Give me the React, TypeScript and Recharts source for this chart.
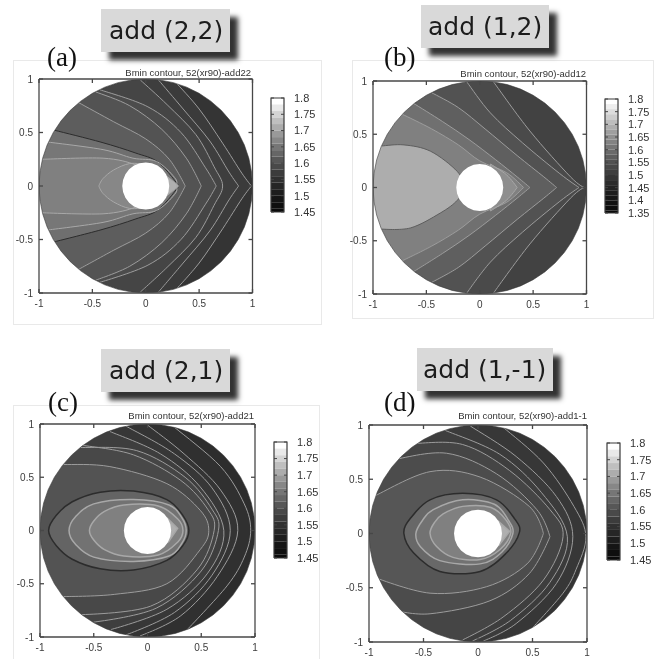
import { Area, ComposedChart, Line, XAxis, YAxis } from 'recharts';

type Pt = [number, number];

const axisTicks = [-1, -0.5, 0, 0.5, 1];
const barTicksShort = [1.45, 1.5, 1.55, 1.6, 1.65, 1.7, 1.75, 1.8];
const barTicksLong = [1.35, 1.4, 1.45, 1.5, 1.55, 1.6, 1.65, 1.7, 1.75, 1.8];
const barLevelsShort = [1.8, 1.78, 1.76, 1.74, 1.72, 1.7, 1.68, 1.66, 1.64, 1.62, 1.6, 1.58, 1.56, 1.54, 1.52, 1.5, 1.48, 1.46, 1.45];
const barLevelsLong = [1.8, 1.78, 1.76, 1.74, 1.72, 1.7, 1.68, 1.66, 1.64, 1.62, 1.6, 1.58, 1.56, 1.54, 1.52, 1.5, 1.48, 1.46, 1.44, 1.42, 1.4, 1.38, 1.36, 1.35];

// disc edge, counter-clockwise from (1,0)
const rim: Pt[] = [
  [1, 0], [0.991, 0.131], [0.966, 0.259], [0.924, 0.383], [0.866, 0.5], [0.793, 0.609], [0.707, 0.707], [0.609, 0.793],
  [0.5, 0.866], [0.383, 0.924], [0.259, 0.966], [0.131, 0.991], [0, 1], [-0.131, 0.991], [-0.259, 0.966], [-0.383, 0.924],
  [-0.5, 0.866], [-0.609, 0.793], [-0.707, 0.707], [-0.793, 0.609], [-0.866, 0.5], [-0.924, 0.383], [-0.966, 0.259], [-0.991, 0.131],
  [-1, 0], [-0.991, -0.131], [-0.966, -0.259], [-0.924, -0.383], [-0.866, -0.5], [-0.793, -0.609], [-0.707, -0.707], [-0.609, -0.793],
  [-0.5, -0.866], [-0.383, -0.924], [-0.259, -0.966], [-0.131, -0.991], [0, -1], [0.131, -0.991], [0.259, -0.966], [0.383, -0.924],
  [0.5, -0.866], [0.609, -0.793], [0.707, -0.707], [0.793, -0.609], [0.866, -0.5], [0.924, -0.383], [0.966, -0.259], [0.991, -0.131],
  [1, 0],
];

const hole: Pt[] = [
  [0.22, 0], [0.2125, 0.057], [0.1905, 0.11], [0.1556, 0.1556], [0.11, 0.1905], [0.057, 0.2125], [0, 0.22],
  [-0.057, 0.2125], [-0.11, 0.1905], [-0.1556, 0.1556], [-0.1905, 0.11], [-0.2125, 0.057], [-0.22, 0],
  [-0.2125, -0.057], [-0.1905, -0.11], [-0.1556, -0.1556], [-0.11, -0.1905], [-0.057, -0.2125], [0, -0.22],
  [0.057, -0.2125], [0.11, -0.1905], [0.1556, -0.1556], [0.1905, -0.11], [0.2125, -0.057], [0.22, 0],
];

// panel (a) contours, outermost first
const contoursA: Pt[][] = [
  [[0.28, 0.97], [0.5, 0.72], [0.72, 0.4], [0.9, 0.12], [0.99, 0], [0.9, -0.12], [0.72, -0.4], [0.5, -0.72], [0.28, -0.97]],
  [[0.12, 0.99], [0.35, 0.72], [0.6, 0.42], [0.78, 0.13], [0.87, 0], [0.78, -0.13], [0.6, -0.42], [0.35, -0.72], [0.12, -0.99]],
  [[-0.05, 0.99], [0.2, 0.76], [0.47, 0.48], [0.64, 0.18], [0.72, 0], [0.64, -0.18], [0.47, -0.48], [0.2, -0.76], [-0.05, -0.99]],
  [[-0.43, 0.9], [0.02, 0.74], [0.33, 0.5], [0.56, 0.17], [0.66, 0], [0.56, -0.17], [0.33, -0.5], [0.02, -0.74], [-0.43, -0.9]],
  [[-0.47, 0.88], [-0.15, 0.75], [0.15, 0.53], [0.38, 0.26], [0.52, 0], [0.38, -0.26], [0.15, -0.53], [-0.15, -0.75], [-0.47, -0.88]],
  [[-0.63, 0.78], [-0.3, 0.6], [0, 0.44], [0.22, 0.25], [0.37, 0], [0.22, -0.25], [0, -0.44], [-0.3, -0.6], [-0.63, -0.78]],
  [[-0.85, 0.52], [-0.42, 0.41], [-0.1, 0.31], [0.12, 0.22], [0.31, 0], [0.12, -0.22], [-0.1, -0.31], [-0.42, -0.41], [-0.85, -0.52]],
  [[-0.91, 0.41], [-0.4, 0.34], [-0.12, 0.26], [0.1, 0.23], [0.27, 0.08], [0.29, 0], [0.27, -0.08], [0.1, -0.23], [-0.12, -0.26], [-0.4, -0.34], [-0.91, -0.41]],
  [[-0.97, 0.25], [-0.4, 0.26], [-0.1, 0.2], [0, 0.12], [0, -0.12], [-0.1, -0.2], [-0.4, -0.26], [-0.97, -0.25]],
  [[-0.44, 0], [-0.4, 0.07], [-0.3, 0.15], [-0.15, 0.21], [0, 0.2], [0, -0.2], [-0.15, -0.21], [-0.3, -0.15], [-0.4, -0.07], [-0.44, 0]],
  [[0.2, 0.09], [0.31, 0], [0.2, -0.09], [0.2, 0.09]],
];
const levelsA = [1.525, 1.53, 1.54, 1.55, 1.56, 1.575, 1.6, 1.612, 1.625, 1.635, 1.69];
const darkA = [6];

// panel (b)
const contoursB: Pt[][] = [
  [[0.13, 0.99], [0.47, 0.53], [0.85, 0.1], [0.98, 0], [0.85, -0.1], [0.47, -0.53], [0.13, -0.99]],
  [[-0.12, 0.99], [0.1, 0.7], [0.4, 0.42], [0.75, 0.13], [0.93, 0], [0.75, -0.13], [0.4, -0.42], [0.1, -0.7], [-0.12, -0.99]],
  [[-0.45, 0.89], [-0.2, 0.75], [0.05, 0.55], [0.35, 0.3], [0.6, 0.1], [0.72, 0], [0.6, -0.1], [0.35, -0.3], [0.05, -0.55], [-0.2, -0.75], [-0.45, -0.89]],
  [[-0.62, 0.79], [-0.35, 0.62], [-0.1, 0.45], [0.15, 0.26], [0.35, 0.1], [0.47, 0], [0.35, -0.1], [0.15, -0.26], [-0.1, -0.45], [-0.35, -0.62], [-0.62, -0.79]],
  [[-0.73, 0.69], [-0.45, 0.55], [-0.2, 0.4], [0, 0.25], [0.25, 0.14], [0.41, 0], [0.25, -0.14], [0, -0.25], [-0.2, -0.4], [-0.45, -0.55], [-0.73, -0.69]],
  [[-0.92, 0.39], [-0.71, 0.4], [-0.46, 0.34], [-0.21, 0.15], [-0.15, 0], [-0.21, -0.12], [-0.37, -0.24], [-0.65, -0.38], [-0.92, -0.39]],
  [[0.1, 0.22], [0.25, 0.12], [0.35, 0], [0.25, -0.12], [0.1, -0.22], [0.1, 0.22]],
];
const levelsB = [1.475, 1.49, 1.515, 1.545, 1.575, 1.655, 1.6];
const darkB = [5];

// panel (c)
const contoursC: Pt[][] = [
  [[0.25, 0.97], [0.68, 0.6], [0.9, 0.25], [0.96, 0], [0.9, -0.25], [0.74, -0.52], [0.37, -0.93]],
  [[0, 0.99], [0.34, 0.72], [0.68, 0.38], [0.84, 0], [0.65, -0.43], [0.31, -0.8], [-0.07, -0.99]],
  [[-0.2, 0.98], [0.25, 0.72], [0.6, 0.4], [0.77, 0], [0.6, -0.42], [0.25, -0.77], [-0.2, -0.98]],
  [[-0.35, 0.93], [0.12, 0.72], [0.49, 0.41], [0.71, 0], [0.56, -0.4], [0.18, -0.74], [-0.34, -0.93]],
  [[-0.62, 0.78], [-0.1, 0.75], [0.35, 0.5], [0.6, 0.2], [0.66, 0], [0.5, -0.38], [0.08, -0.73], [-0.5, -0.86]],
  [[-0.6, 0.8], [-0.13, 0.71], [0.31, 0.47], [0.56, 0.2], [0.62, 0], [0.46, -0.37], [0.03, -0.71], [-0.62, -0.79]],
  [[-0.78, 0.62], [-0.35, 0.6], [0.18, 0.44], [0.49, 0.19], [0.57, 0], [0.49, -0.18], [0.18, -0.5], [-0.31, -0.6], [-0.78, -0.62]],
  [[-0.92, 0], [-0.85, 0.14], [-0.7, 0.27], [-0.44, 0.36], [-0.13, 0.37], [0.18, 0.29], [0.33, 0.14], [0.385, 0], [0.33, -0.14], [0.18, -0.28], [-0.13, -0.37], [-0.44, -0.36], [-0.7, -0.27], [-0.85, -0.14], [-0.92, 0]],
  [[-0.73, 0], [-0.67, 0.13], [-0.5, 0.25], [-0.13, 0.29], [0.2, 0.24], [0.32, 0.12], [0.36, 0], [0.32, -0.12], [0.2, -0.24], [-0.13, -0.29], [-0.5, -0.25], [-0.67, -0.13], [-0.73, 0]],
  [[-0.54, 0], [-0.5, 0.09], [-0.4, 0.18], [-0.22, 0.24], [0.1, 0.23], [0.28, 0.11], [0.33, 0], [0.28, -0.11], [0.1, -0.23], [-0.22, -0.24], [-0.4, -0.18], [-0.5, -0.09], [-0.54, 0]],
  [[0.18, 0.12], [0.28, 0.02], [0.2, -0.1], [0.18, 0.12]],
];
const levelsC = [1.51, 1.515, 1.52, 1.53, 1.54, 1.545, 1.56, 1.585, 1.605, 1.625, 1.69];
const darkC = [7];

// panel (d)
const contoursD: Pt[][] = [
  [[0.23, 0.98], [0.6, 0.65], [0.88, 0.25], [0.99, -0.03], [0.9, -0.33], [0.78, -0.55], [0.48, -0.89]],
  [[-0.07, 0.99], [0.35, 0.71], [0.72, 0.34], [0.87, -0.03], [0.72, -0.46], [0.35, -0.83], [0.05, -0.99]],
  [[-0.3, 0.95], [0.2, 0.73], [0.58, 0.38], [0.82, -0.03], [0.66, -0.45], [0.3, -0.8], [-0.05, -0.99]],
  [[-0.59, 0.83], [-0.14, 0.82], [0.29, 0.58], [0.66, 0.22], [0.78, -0.03], [0.6, -0.43], [0.23, -0.77], [-0.14, -0.98]],
  [[-0.78, 0.68], [-0.29, 0.74], [0.17, 0.55], [0.54, 0.22], [0.66, -0.03], [0.47, -0.37], [0.11, -0.62], [-0.44, -0.74], [-0.75, -0.71]],
  [[-0.96, 0.34], [-0.44, 0.57], [0.02, 0.52], [0.47, 0.25], [0.6, 0], [0.45, -0.28], [0.08, -0.49], [-0.44, -0.55], [-0.96, -0.4]],
  [[-0.68, 0], [-0.62, 0.14], [-0.44, 0.31], [-0.14, 0.37], [0.17, 0.31], [0.34, 0.13], [0.38, 0.01], [0.26, -0.18], [0.02, -0.35], [-0.35, -0.35], [-0.59, -0.18], [-0.68, 0]],
  [[-0.57, 0], [-0.51, 0.12], [-0.41, 0.22], [-0.14, 0.31], [0.15, 0.27], [0.28, 0.12], [0.32, 0], [0.22, -0.17], [0.02, -0.28], [-0.35, -0.25], [-0.53, -0.12], [-0.57, 0]],
  [[-0.44, 0], [-0.4, 0.1], [-0.32, 0.18], [-0.14, 0.25], [0.12, 0.24], [0.26, 0.12], [0.3, 0], [0.2, -0.15], [0.02, -0.24], [-0.23, -0.22], [-0.38, -0.12], [-0.44, 0]],
  [[0.18, 0.12], [0.29, 0.02], [0.2, -0.1], [0.18, 0.12]],
];
const levelsD = [1.52, 1.525, 1.53, 1.54, 1.55, 1.565, 1.59, 1.605, 1.625, 1.69];
const darkD = [6];

const shade = (level: number, min: number, power = 1.05) => {
  const t = Math.max(0, (level - min) / (1.8 - min));
  const g = Math.round(10 + 245 * Math.pow(t, power));
  return `rgb(${g},${g},${g})`;
};

const toRows = (pts: Pt[]) => pts.map(([x, y]) => ({ x, y }));

// close a contour through the left of the box so everything inside it gets filled
const closeShape = (pts: Pt[]): Pt[] => {
  const first = pts[0];
  const last = pts[pts.length - 1];
  if (first[0] === last[0] && first[1] === last[1]) return pts;
  return [...pts, [last[0], -1], [-1, -1], [-1, 1], [first[0], 1], first];
};

const maskOutline: Pt[] = [[-1, 1], [1, 1], [1, 0], ...rim, [1, -1], [-1, -1], [-1, 1]];

// d3-style curve: rounded through the points, but keeps sharp corners (the chevron tips)
function smoothContour(context: any) {
  let pts: Pt[] = [];
  let line = NaN;
  const draw = (started: boolean) => {
    const n = pts.length;
    if (!n) return;
    if (started) context.lineTo(pts[0][0], pts[0][1]);
    else context.moveTo(pts[0][0], pts[0][1]);
    const closed = n > 3 && pts[0][0] === pts[n - 1][0] && pts[0][1] === pts[n - 1][1];
    const tangent = (i: number): Pt => {
      const prev = i > 0 ? pts[i - 1] : closed ? pts[n - 2] : pts[i];
      const next = i < n - 1 ? pts[i + 1] : closed ? pts[1] : pts[i];
      const cur = pts[i];
      const a = Math.atan2(cur[1] - prev[1], cur[0] - prev[0]);
      const b = Math.atan2(next[1] - cur[1], next[0] - cur[0]);
      let turn = Math.abs(a - b);
      if (turn > Math.PI) turn = 2 * Math.PI - turn;
      if (turn > 0.95) return [0, 0];
      return [(next[0] - prev[0]) / 6, (next[1] - prev[1]) / 6];
    };
    for (let i = 0; i < n - 1; i++) {
      const t0 = tangent(i);
      const t1 = tangent(i + 1);
      context.bezierCurveTo(pts[i][0] + t0[0], pts[i][1] + t0[1], pts[i + 1][0] - t1[0], pts[i + 1][1] - t1[1], pts[i + 1][0], pts[i + 1][1]);
    }
  };
  return {
    areaStart() { line = 0; },
    areaEnd() { line = NaN; },
    lineStart() { pts = []; },
    lineEnd() {
      draw(line === 1);
      if (line === 1) context.closePath();
      line = 1 - line;
    },
    point(x: number, y: number) { pts.push([+x, +y]); },
  };
}

const axisColor = '#474747';
const tickStyle = { fontSize: 10, fill: '#3c3c3c', fontFamily: 'Liberation Sans' };
const ends = toRows([[-1, -1], [1, 1]]);

type PanelProps = {
  left: number;
  top: number;
  size: number;
  height: number;
  contours: Pt[][];
  levels: number[];
  dark: number[];
  darkStroke: string;
  innerWidth: number;
  base: number;
  min: number;
};

function ContourPanel({ left, top, size, height, contours, levels, dark, darkStroke, innerWidth, base, min }: PanelProps) {
  const chartStyle = { position: 'absolute', left: left - 30, top: top - 10 } as const;
  return (
    <>
      <div style={chartStyle}>
        <ComposedChart width={size + 40} height={height + 30} margin={{ top: 10, right: 10, left: 30, bottom: 20 }}>
          <XAxis type="number" dataKey="x" domain={[-1, 1]} allowDataOverflow hide />
          <YAxis type="number" dataKey="y" domain={[-1, 1]} allowDataOverflow hide />
          <Area data={toRows([[-1, 1], [1, 1], [1, -1], [-1, -1], [-1, 1]])} dataKey="y" stroke="none" fill={shade(base, min)} fillOpacity={1}
            dot={false} activeDot={false} isAnimationActive={false} />
          {contours.map((pts, i) => (
            <Area key={i} type={smoothContour as any} data={toRows(closeShape(pts))} dataKey="y" stroke="none" fill={shade(levels[i], min)} fillOpacity={1}
              dot={false} activeDot={false} isAnimationActive={false} />
          ))}
          {contours.map((pts, i) => (
            <Area key={`line-${i}`} type={smoothContour as any} data={toRows(pts)} dataKey="y" fill="none"
              stroke={dark.includes(i) ? darkStroke : i > dark[0] ? '#a8a8a8' : '#9c9c9c'}
              strokeWidth={i >= dark[0] ? innerWidth : 1}
              dot={false} activeDot={false} isAnimationActive={false} />
          ))}
          <Area data={toRows(maskOutline)} dataKey="y" stroke="none" fill="#ffffff" fillOpacity={1} dot={false} activeDot={false} isAnimationActive={false} />
          <Area data={toRows(hole)} dataKey="y" stroke="none" fill="#ffffff" fillOpacity={1} dot={false} activeDot={false} isAnimationActive={false} />
          <Line data={toRows(rim)} dataKey="y" stroke="#3a3a3a" strokeWidth={0.6} dot={false} activeDot={false} isAnimationActive={false} />
        </ComposedChart>
      </div>
      {/* box and ticks sit in their own chart, above the white mask */}
      <div style={chartStyle}>
        <ComposedChart width={size + 40} height={height + 30} margin={{ top: 9, right: 9, left: 0, bottom: 0 }}>
          <XAxis xAxisId={0} type="number" dataKey="x" domain={[-1, 1]} ticks={axisTicks} interval={0} height={20}
            tickSize={-4} tickMargin={11} tick={tickStyle} stroke={axisColor} strokeWidth={1.3} />
          <XAxis xAxisId="top" orientation="top" type="number" dataKey="x" domain={[-1, 1]} ticks={axisTicks} interval={0} height={1}
            tickSize={-4} tickFormatter={() => ''} stroke={axisColor} strokeWidth={1.3} />
          <YAxis yAxisId={0} type="number" dataKey="y" domain={[-1, 1]} ticks={axisTicks} interval={0} width={30}
            tickSize={-4} tickMargin={10} tick={tickStyle} stroke={axisColor} strokeWidth={1.3} />
          <YAxis yAxisId="right" orientation="right" type="number" dataKey="y" domain={[-1, 1]} ticks={axisTicks} interval={0} width={1}
            tickSize={-4} tickFormatter={() => ''} stroke={axisColor} strokeWidth={1.3} />
          <Line data={ends} dataKey="y" stroke="none" dot={false} activeDot={false} isAnimationActive={false} />
          <Line data={ends} xAxisId="top" yAxisId="right" dataKey="y" stroke="none" dot={false} activeDot={false} isAnimationActive={false} />
        </ComposedChart>
      </div>
    </>
  );
}

function ColorBar({ left, top, width, height, levels, ticks, min }: { left: number; top: number; width: number; height: number; levels: number[]; ticks: number[]; min: number }) {
  const outline = [{ x: 0, y: min }, { x: 1, y: min }, { x: 1, y: 1.8 }, { x: 0, y: 1.8 }, { x: 0, y: min }];
  return (
    <div style={{ position: 'absolute', left: left - 1, top: top - 8 }}>
      <ComposedChart width={width + 36} height={height + 16} margin={{ top: 8, right: 0, left: 0, bottom: 8 }}>
        <XAxis type="number" dataKey="x" domain={[0, 1]} hide />
        <YAxis yAxisId="left" type="number" domain={[min, 1.8]} ticks={ticks} interval={0} width={1}
          tickSize={-3} tickFormatter={() => ''} axisLine={false} stroke="#444" />
        <YAxis yAxisId="scale" orientation="right" type="number" domain={[min, 1.8]} ticks={ticks} interval={0} width={35}
          tickSize={-3} tickMargin={13} tickFormatter={(v: number) => String(v)} axisLine={false}
          tick={{ fontSize: 11, fill: '#333', fontFamily: 'Liberation Sans' }} stroke="#444" />
        {levels.slice(0, -1).map((level, i) => (
          <Area key={level} yAxisId="scale" dataKey="band" stroke="none" fill={shade(level, min, 1.6)} fillOpacity={1}
            data={[{ x: 0, band: [levels[i + 1], level] }, { x: 1, band: [levels[i + 1], level] }]}
            dot={false} activeDot={false} isAnimationActive={false} />
        ))}
        <Line yAxisId="left" data={outline} dataKey="y" stroke="#3a3a3a" strokeWidth={1.2} dot={false} activeDot={false} isAnimationActive={false} />
      </ComposedChart>
    </div>
  );
}

function Heading({ left, top, width, height, text, textLeft }: { left: number; top: number; width: number; height: number; text: string; textLeft: number }) {
  return (
    <div style={{ position: 'absolute', left, top, width, height, background: '#d9d9d9', boxShadow: '8px 8px 5px #333', fontFamily: 'DejaVu Sans', fontSize: 25, lineHeight: `${height}px`, color: '#1c1c1c', whiteSpace: 'pre' }}>
      <span style={{ marginLeft: textLeft }}>{text}</span>
    </div>
  );
}

function Letter({ left, top, text }: { left: number; top: number; text: string }) {
  return (
    <div style={{ position: 'absolute', left, top, fontFamily: 'Liberation Serif', fontSize: 27, lineHeight: '32px', color: '#111' }}>{text}</div>
  );
}

function Frame({ left, top, width, height }: { left: number; top: number; width: number; height: number }) {
  return <div style={{ position: 'absolute', left, top, width, height, border: '1px solid #e9e9e9', background: '#fff' }} />;
}

function PlotTitle({ right, top, text }: { right: number; top: number; text: string }) {
  return (
    <div style={{ position: 'absolute', left: right - 200, width: 200, top, textAlign: 'right', fontFamily: 'Liberation Sans', fontSize: 9.5, lineHeight: '12px', color: '#333' }}>{text}</div>
  );
}

export default function App() {
  return (
    <div style={{ position: 'absolute', left: 0, top: 0, width: 661, height: 659, overflow: 'hidden', background: '#fff', filter: 'blur(0.6px)' }}>
      <Frame left={13} top={60} width={307} height={263} />
      <Frame left={352} top={60} width={300} height={257} />
      <Frame left={13} top={405} width={305} height={253} />

      <Heading left={101} top={9} width={129} height={43} text="add (2,2)" textLeft={8} />
      <Heading left={421} top={5} width={128} height={43} text="add (1,2)" textLeft={7} />
      <Heading left={101} top={349} width={129} height={43} text="add (2,1)" textLeft={8} />
      <Heading left={417} top={348} width={136} height={43} text="add (1,-1)" textLeft={6} />

      <Letter left={47} top={41} text="(a)" />
      <Letter left={384} top={41} text="(b)" />
      <Letter left={48} top={386} text="(c)" />
      <Letter left={384} top={386} text="(d)" />

      <PlotTitle right={251} top={67} text="Bmin contour, 52(xr90)-add22" />
      <PlotTitle right={586} top={68} text="Bmin contour, 52(xr90)-add12" />
      <PlotTitle right={254} top={410} text="Bmin contour, 52(xr90)-add21" />
      <PlotTitle right={587} top={410} text="Bmin contour, 52(xr90)-add1-1" />

      <ContourPanel left={38.5} top={79} size={213.5} height={214} contours={contoursA} levels={levelsA} dark={darkA} darkStroke="#2c2c2c" innerWidth={1} base={1.515} min={1.45} />
      <ContourPanel left={372.5} top={80.5} size={213.5} height={213} contours={contoursB} levels={levelsB} dark={darkB} darkStroke="#5e5e5e" innerWidth={1} base={1.46} min={1.35} />
      <ContourPanel left={40} top={424} size={215} height={213} contours={contoursC} levels={levelsC} dark={darkC} darkStroke="#2c2c2c" innerWidth={1.5} base={1.505} min={1.45} />
      <ContourPanel left={369} top={425} size={218} height={217} contours={contoursD} levels={levelsD} dark={darkD} darkStroke="#2c2c2c" innerWidth={1.5} base={1.515} min={1.45} />

      <ColorBar left={271} top={98} width={13} height={114} levels={barLevelsShort} ticks={barTicksShort} min={1.45} />
      <ColorBar left={605} top={99} width={13} height={114} levels={barLevelsLong} ticks={barTicksLong} min={1.35} />
      <ColorBar left={274} top={442} width={13} height={116} levels={barLevelsShort} ticks={barTicksShort} min={1.45} />
      <ColorBar left={607} top={443} width={13} height={117} levels={barLevelsShort} ticks={barTicksShort} min={1.45} />
    </div>
  );
}
